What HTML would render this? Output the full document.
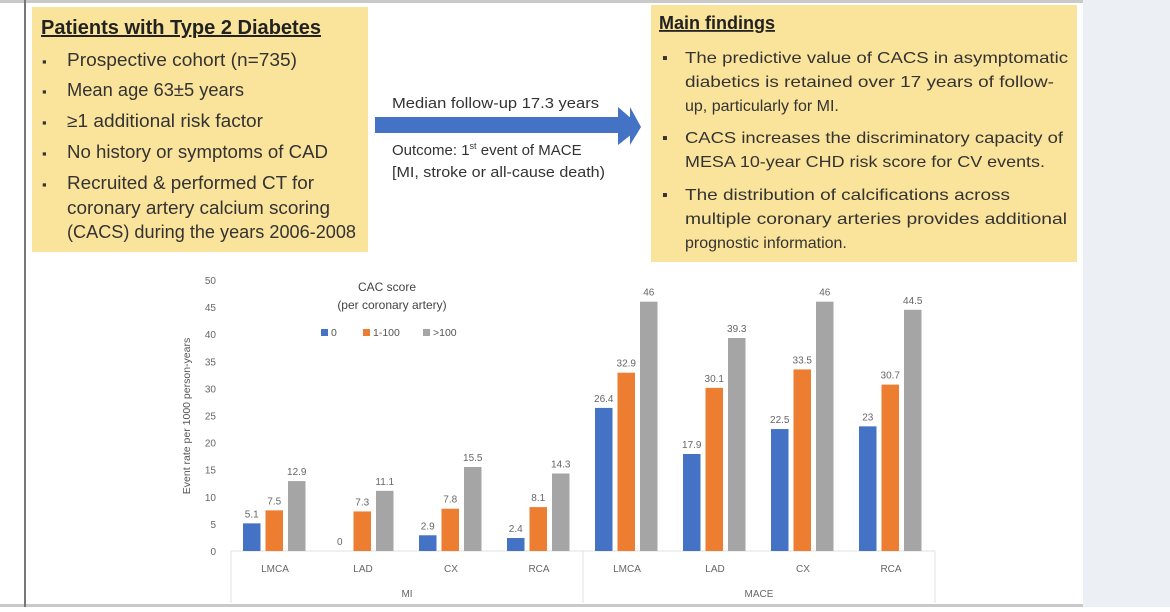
<!DOCTYPE html>
<html><head><meta charset="utf-8"><style>
body{margin:0;width:1170px;height:607px;overflow:hidden;background:#fff;font-family:"Liberation Sans",sans-serif}
svg text{font-family:"Liberation Sans",sans-serif}
</style></head><body>
<svg id="root" width="1170" height="607" viewBox="0 0 1170 607" xmlns="http://www.w3.org/2000/svg">
<rect x="0" y="0" width="1170" height="607" fill="#fff"/>
<rect x="1083" y="0" width="87" height="607" fill="#eceff3"/>
<rect x="0" y="0" width="1083" height="3" fill="#c9c9c9"/>
<rect x="0" y="604" width="1083" height="3" fill="#c9c9c9"/>
<rect x="24" y="0" width="2" height="607" fill="#777"/>

<g>
<rect x="32" y="7" width="336" height="245" fill="#fae39a"/>
<text x="41" y="34" font-size="20" font-weight="bold" fill="#222" text-decoration="underline" textLength="280" lengthAdjust="spacingAndGlyphs">Patients with Type 2 Diabetes</text>
<g font-size="18" fill="#333">
<text x="42" y="66" font-size="13">▪</text><text x="67" y="66" textLength="230" lengthAdjust="spacingAndGlyphs">Prospective cohort  (n=735)</text>
<text x="42" y="96" font-size="13">▪</text><text x="67" y="96" textLength="177" lengthAdjust="spacingAndGlyphs">Mean age 63±5 years</text>
<text x="42" y="127" font-size="13">▪</text><text x="67" y="127" textLength="196" lengthAdjust="spacingAndGlyphs">≥1 additional risk factor</text>
<text x="42" y="158" font-size="13">▪</text><text x="67" y="158" textLength="261" lengthAdjust="spacingAndGlyphs">No history or symptoms of CAD</text>
<text x="42" y="189" font-size="13">▪</text><text x="67" y="189" textLength="247" lengthAdjust="spacingAndGlyphs">Recruited &amp; performed CT for</text>
<text x="67" y="214" textLength="263" lengthAdjust="spacingAndGlyphs">coronary artery calcium scoring</text>
<text x="67" y="238" textLength="289" lengthAdjust="spacingAndGlyphs">(CACS) during the years 2006-2008</text>
</g></g>

<g>
<polygon points="375,117 630,117 630,107 641,127 630,145 630,133 375,133" fill="#4472c4"/>
<polygon points="618,107 641,127 618,145" fill="#4472c4"/>
<text x="392" y="108" font-size="15" fill="#333" textLength="207" lengthAdjust="spacingAndGlyphs">Median follow-up 17.3 years</text>
<text x="392" y="155" font-size="15" fill="#333">Outcome: 1<tspan font-size="9" dy="-6">st</tspan><tspan dy="6"> event of MACE</tspan></text>
<text x="392" y="177" font-size="15" fill="#333" textLength="213" lengthAdjust="spacingAndGlyphs">[MI, stroke or all-cause death)</text>
</g>

<g>
<rect x="651" y="5" width="426" height="257" fill="#fae39a"/>
<text x="659" y="29" font-size="18" font-weight="bold" fill="#222" text-decoration="underline">Main findings</text>
<g font-size="16" fill="#333">
<text x="662" y="63">▪</text><text x="685" y="63" textLength="383" lengthAdjust="spacingAndGlyphs">The predictive value of CACS in asymptomatic</text>
<text x="685" y="87" textLength="369" lengthAdjust="spacingAndGlyphs">diabetics is retained over 17 years of follow-</text>
<text x="685" y="111">up, particularly for MI.</text>
<text x="662" y="143">▪</text><text x="685" y="143" textLength="378" lengthAdjust="spacingAndGlyphs">CACS increases the discriminatory capacity of</text>
<text x="685" y="167" textLength="360" lengthAdjust="spacingAndGlyphs">MESA 10-year CHD risk score for CV events.</text>
<text x="662" y="200">▪</text><text x="685" y="200" textLength="325" lengthAdjust="spacingAndGlyphs">The distribution of calcifications across</text>
<text x="685" y="224" textLength="382" lengthAdjust="spacingAndGlyphs">multiple coronary arteries provides additional</text>
<text x="685" y="248">prognostic information.</text>
</g></g>

<g id="chart"></g>
</svg>
<script>
const categories=["LMCA","LAD","CX","RCA","LMCA","LAD","CX","RCA"];
const groups=["MI","MACE"];
const seriesNames=["0","1-100",">100"];
const zeroVals=[5.1,0,2.9,2.4,26.4,17.9,22.5,23];
const lowVals=[7.5,7.3,7.8,8.1,32.9,30.1,33.5,30.7];
const highVals=[12.9,11.1,15.5,14.3,46,39.3,46,44.5];
const yTicks=[0,5,10,15,20,25,30,35,40,45,50];
const colors=["#4472c4","#ed7d31","#a5a5a5"];
const NS="http://www.w3.org/2000/svg";
const g=document.getElementById('chart');
const x0=231,slot=88,y0=551,yMax=50,yTop=280;
const y=v=>y0-(v/yMax)*(y0-yTop);
const xs=i=>x0+i*slot;
function mk(t,a,p){const e=document.createElementNS(NS,t);for(const k in a)e.setAttribute(k,a[k]);(p||g).appendChild(e);return e;}
yTicks.forEach(t=>{const e=mk('text',{x:216,y:y(t)+4,'font-size':10,fill:'#666','text-anchor':'end'});e.textContent=t;

});
const yt=mk('text',{x:0,y:0,'font-size':10.5,fill:'#555','text-anchor':'middle',transform:'translate(190,416) rotate(-90)'});
yt.textContent='Event rate per 1000 person-years';


mk('line',{x1:x0,y1:y0,x2:xs(categories.length),y2:y0,stroke:'#e2e2e2'});
[0,4,8].forEach(i=>mk('line',{x1:xs(i),y1:y0,x2:xs(i),y2:603,stroke:'#e2e2e2'}));
const series=[zeroVals,lowVals,highVals];
categories.forEach((c,i)=>{
 series.forEach((vals,s)=>{
  const bx=xs(i)+12+s*22.5,v=vals[i];
  const r=mk('rect',{x:bx,y:y(v),width:17.5,height:y0-y(v),fill:colors[s]});
  
  
  const l=mk('text',{x:bx+8.75,y:y(v)-6,'font-size':10,fill:'#666','text-anchor':'middle'});l.textContent=v;
  
  
 });
 const cl=mk('text',{x:xs(i)+slot/2,y:572,'font-size':10,fill:'#666','text-anchor':'middle'});cl.textContent=c;
 
 
});
groups.forEach((gr,k)=>{const t=mk('text',{x:xs(k*4+2),y:597,'font-size':10,fill:'#666','text-anchor':'middle'});t.textContent=gr;

});
const lt=mk('text',{x:387,y:291,'font-size':12,fill:'#444','text-anchor':'middle'});lt.textContent='CAC score';


const lt2=mk('text',{x:392,y:309,'font-size':12,fill:'#444','text-anchor':'middle'});lt2.textContent='(per coronary artery)';


const lx=[321,363,423];
seriesNames.forEach((n,s)=>{
 const r=mk('rect',{x:lx[s],y:329,width:7,height:7,fill:colors[s]});
 
 
 const t=mk('text',{x:lx[s]+10,y:336,'font-size':10.5,fill:'#555'});t.textContent=n;
 
 
});
</script>
</body></html>
